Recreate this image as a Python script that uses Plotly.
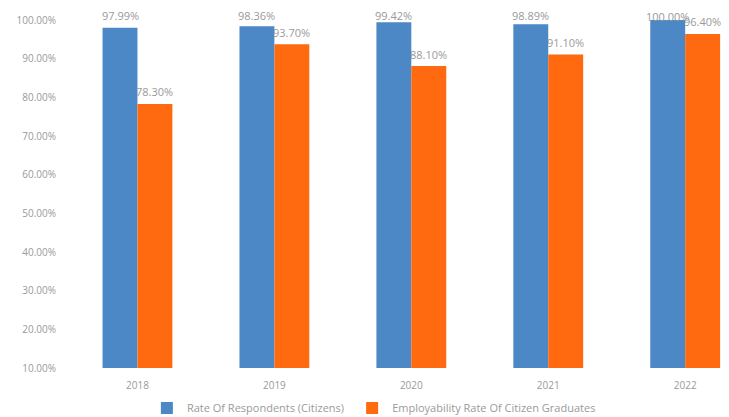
import plotly.graph_objects as go

years = ["2018", "2019", "2020", "2021", "2022"]
respondents = [0.9799, 0.9836, 0.9942, 0.9889, 1.0000]
employability = [0.7830, 0.9370, 0.8810, 0.9110, 0.9640]
tick_vals = [0.1, 0.2, 0.3, 0.4, 0.5, 0.6, 0.7, 0.8, 0.9, 1.0]

blue = "#4C87C6"
orange = "#FF6A10"
gray = "#9a9a9a"
font_family = "Open Sans, Liberation Sans, sans-serif"

W, H = 721, 409
M_L, M_R, M_T, M_B = 61, 0, 12, 49
Y_MIN, Y_MAX = 0.1, 1.0
X_RANGE = [-0.5, 4.32]
BARGAP = 0.49

fig = go.Figure()
fig.add_trace(go.Bar(
    x=years, y=respondents, name="Rate Of Respondents (Citizens)",
    marker=dict(color=blue, line=dict(width=0)), legend="legend",
))
fig.add_trace(go.Bar(
    x=years, y=employability, name="Employability Rate Of Citizen Graduates",
    marker=dict(color=orange, line=dict(width=0)), legend="legend2",
))

# value labels (clamped near the top like the source chart)
plot_h = H - M_T - M_B
plot_w = W - M_L - M_R
px_per_val = plot_h / (Y_MAX - Y_MIN)
px_per_cat = plot_w / (X_RANGE[1] - X_RANGE[0])
bar_w = px_per_cat * (1 - BARGAP) / 2
annotations = []
for series, sign in ((respondents, -1), (employability, 1)):
    for i, v in enumerate(series):
        top = M_T + (Y_MAX - v) * px_per_val
        center = max(top - 12, 8)
        annotations.append(dict(
            x=i, y=v, xref="x", yref="y", text=f"{v*100:.2f}%", showarrow=False,
            xanchor="center", yanchor="middle", xshift=sign * bar_w / 2,
            yshift=top - center, font=dict(color=gray, size=11, family=font_family),
        ))

fig.update_layout(
    width=W, height=H,
    margin=dict(l=M_L, r=M_R, t=M_T, b=M_B, autoexpand=False),
    paper_bgcolor="white", plot_bgcolor="white",
    barmode="group", bargap=BARGAP, bargroupgap=0,
    font=dict(family=font_family, color=gray, size=10),
    showlegend=True,
    legend=dict(orientation="h", x=0.118, xanchor="left", y=-0.115, yanchor="middle",
                font=dict(size=11, color=gray), itemwidth=30),
    legend2=dict(orientation="h", x=0.429, xanchor="left", y=-0.115, yanchor="middle",
                 font=dict(size=11, color=gray), itemwidth=30),
    annotations=annotations,
)
fig.update_xaxes(type="category", range=X_RANGE, showgrid=False, showline=False, ticks="",
                 tickfont=dict(size=10, color=gray), automargin=False,
                 ticklabelstandoff=10)
fig.update_yaxes(range=[Y_MIN, Y_MAX], tickvals=tick_vals, tickformat=".2%",
                 showgrid=False, zeroline=False, showline=False, ticks="",
                 tickfont=dict(size=10, color=gray), ticklabelstandoff=12,
                 automargin=False)

fig.write_html("out.html")
